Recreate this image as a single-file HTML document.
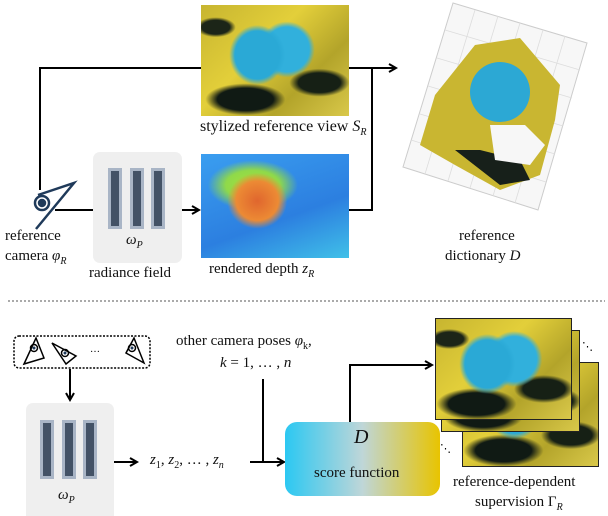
<!DOCTYPE html>
<html><head><meta charset="utf-8"><style>
body{margin:0;width:608px;height:516px;background:#fff;overflow:hidden;font-family:"Liberation Serif",serif;}
.t{position:absolute;font-size:15px;color:#111;white-space:nowrap;}
.img{position:absolute;overflow:hidden;}
.sty{background:
 radial-gradient(ellipse 28px 30px at 38% 45%,#2aa9d6 0,#2aa9d6 80%,transparent 100%),
 radial-gradient(ellipse 28px 28px at 58% 40%,#31b0dc 0,#31b0dc 80%,transparent 100%),
 radial-gradient(ellipse 40px 16px at 30% 85%,#101a14 0,#101a14 70%,transparent 100%),
 radial-gradient(ellipse 30px 14px at 80% 70%,#162015 0,#162015 70%,transparent 100%),
 radial-gradient(ellipse 20px 10px at 10% 20%,#1c2518 0,#1c2518 70%,transparent 100%),
 linear-gradient(135deg,#c7b530,#e3cf3a 40%,#b3a42a 70%,#d9c84a);}
</style></head><body>
<svg width="608" height="516" style="position:absolute;left:0;top:0">
<defs><marker id="a" markerWidth="10" markerHeight="10" refX="8" refY="5" orient="auto" markerUnits="userSpaceOnUse"><path d="M1,1 L8,5 L1,9" fill="none" stroke="#000" stroke-width="2"/></marker>
<linearGradient id="sg" x1="0" x2="1"><stop offset="0" stop-color="#2bc8f2"/><stop offset="0.5" stop-color="#bfd6d8"/><stop offset="1" stop-color="#e8c400"/></linearGradient></defs>
<polyline points="40,190 40,68 201,68" fill="none" stroke="#000" stroke-width="2"/>
<line x1="349" y1="68" x2="396" y2="68" stroke="#000" stroke-width="2" marker-end="url(#a)"/>
<polyline points="349,210 372,210 372,68" fill="none" stroke="#000" stroke-width="2"/>
<line x1="55" y1="210" x2="93" y2="210" stroke="#000" stroke-width="2"/>
<line x1="182" y1="210" x2="199" y2="210" stroke="#000" stroke-width="2" marker-end="url(#a)"/>
<g transform="translate(42,203)" stroke="#1f3a5a" stroke-width="2.5" fill="none">
<circle r="7"/><circle r="3" fill="#1f3a5a"/><path d="M-4,-8 L32,-20 L-6,26"/></g>
<rect x="93" y="152" width="89" height="111" rx="7" fill="#efefef"/>
<g fill="#a9b5c6"><rect x="108" y="168" width="14" height="61"/><rect x="130" y="168" width="14" height="61"/><rect x="151" y="168" width="14" height="61"/></g>
<g fill="#435266"><rect x="111" y="171" width="8" height="55"/><rect x="133" y="171" width="8" height="55"/><rect x="154" y="171" width="8" height="55"/></g>
<polygon points="453,3 587,43 538,210 403,167" fill="#f7f7f7" stroke="#ccc"/>
<g stroke="#ddd" stroke-width="0.8">
<line x1="475" y1="10" x2="425" y2="174"/><line x1="498" y1="16" x2="448" y2="181"/><line x1="520" y1="23" x2="470" y2="188"/><line x1="543" y1="30" x2="493" y2="196"/><line x1="565" y1="36" x2="515" y2="203"/>
<line x1="445" y1="30" x2="580" y2="70"/><line x1="437" y1="58" x2="572" y2="98"/><line x1="428" y1="86" x2="563" y2="126"/><line x1="420" y1="114" x2="555" y2="154"/><line x1="411" y1="140" x2="546" y2="182"/></g>
<path d="M475,45 L520,38 L560,85 L555,120 L540,175 L500,190 L455,165 L420,145 L435,95 Z" fill="#c9b631"/>
<path d="M455,150 L500,185 L530,180 L520,160 L480,150 Z" fill="#17201a"/>
<path d="M490,125 L525,125 L545,145 L530,165 L495,160 Z" fill="#f7f7f7"/>
<ellipse cx="500" cy="92" rx="30" ry="30" fill="#2ca8d4"/>
<line x1="8" y1="301" x2="605" y2="301" stroke="#aaa" stroke-width="2" stroke-dasharray="2,2"/>
<rect x="14" y="336" width="136" height="32" rx="5" fill="none" stroke="#000" stroke-width="1.5" stroke-dasharray="2,1.5"/>
<g stroke="#000" stroke-width="1.5" fill="none">
<path d="M24,364 L36,338 L44,358 Z"/><circle cx="34" cy="348" r="3.5"/>
<path d="M52,343 L76,356 L66,364 Z"/><circle cx="65" cy="353" r="3.5"/>
<path d="M144,363 L134,338 L126,353 Z"/><circle cx="132" cy="348" r="3.5"/></g>
<g fill="#1f3a5a"><circle cx="34" cy="348" r="1.5"/><circle cx="65" cy="353" r="1.5"/><circle cx="132" cy="348" r="1.5"/></g>
<text x="90" y="352" font-size="10" font-family="Liberation Serif">…</text>
<line x1="70" y1="369" x2="70" y2="400" stroke="#000" stroke-width="2" marker-end="url(#a)"/>
<rect x="26" y="403" width="88" height="120" rx="7" fill="#efefef"/>
<g fill="#a9b5c6"><rect x="40" y="420" width="14" height="59"/><rect x="62" y="420" width="14" height="59"/><rect x="83" y="420" width="14" height="59"/></g>
<g fill="#435266"><rect x="43" y="423" width="8" height="53"/><rect x="65" y="423" width="8" height="53"/><rect x="86" y="423" width="8" height="53"/></g>
<line x1="114" y1="462" x2="137" y2="462" stroke="#000" stroke-width="2" marker-end="url(#a)"/>
<line x1="250" y1="462" x2="284" y2="462" stroke="#000" stroke-width="2" marker-end="url(#a)"/>
<line x1="263" y1="379" x2="263" y2="462" stroke="#000" stroke-width="2"/>
<rect x="285" y="422" width="155" height="74" rx="12" fill="url(#sg)"/>
<polyline points="350,422 350,365 432,365" fill="none" stroke="#000" stroke-width="2" marker-end="url(#a)"/>
<text x="440" y="452" font-size="11" font-family="Liberation Serif">⋱</text>
<text x="582" y="350" font-size="11" font-family="Liberation Serif">⋱</text>
</svg>
<div class="img sty" style="left:201px;top:5px;width:148px;height:111px"></div>
<div class="img" style="left:201px;top:154px;width:148px;height:104px;background:
 radial-gradient(ellipse 30px 28px at 38% 45%,#e0662e 0,#ec8a34 70%,transparent 100%),
 radial-gradient(ellipse 45px 25px at 35% 30%,#a9e03a 0,#8fd94a 60%,transparent 100%),
 linear-gradient(160deg,#3a9ef0,#2c7fe0 60%,#40c0e8)"></div>
<div class="img sty" style="left:462px;top:362px;width:135px;height:103px;border:1.5px solid #222"></div>
<div class="img sty" style="left:441px;top:330px;width:137px;height:100px;border:1.5px solid #222"></div>
<div class="img sty" style="left:435px;top:318px;width:135px;height:100px;border:1.5px solid #222"></div>
<div class="t" style="left:200px;top:118px;font-size:16px">stylized reference view <i>S<sub style="font-size:10px">R</sub></i></div>
<div class="t" style="left:209px;top:261px">rendered depth <i>z<sub style="font-size:10px">R</sub></i></div>
<div class="t" style="left:5px;top:228px">reference</div>
<div class="t" style="left:5px;top:248px">camera <i>φ<sub style="font-size:10px">R</sub></i></div>
<div class="t" style="left:126px;top:232px"><i>ω<sub style="font-size:10px">P</sub></i></div>
<div class="t" style="left:89px;top:265px">radiance field</div>
<div class="t" style="left:459px;top:228px">reference</div>
<div class="t" style="left:445px;top:248px">dictionary <i>D</i></div>
<div class="t" style="left:176px;top:333px">other camera poses <i>φ</i><sub style="font-size:10px">k</sub>,</div>
<div class="t" style="left:220px;top:355px"><i>k</i> = 1, … , <i>n</i></div>
<div class="t" style="left:58px;top:487px"><i>ω<sub style="font-size:10px">P</sub></i></div>
<div class="t" style="left:150px;top:452px"><i>z</i><sub style="font-size:10px">1</sub>, <i>z</i><sub style="font-size:10px">2</sub>, … , <i>z<sub style="font-size:10px">n</sub></i></div>
<div class="t" style="left:354px;top:426px;font-size:20px"><i>D</i></div>
<div class="t" style="left:314px;top:465px;font-size:15px">score function</div>
<div class="t" style="left:453px;top:474px">reference-dependent</div>
<div class="t" style="left:475px;top:494px">supervision Γ<i><sub style="font-size:10px">R</sub></i></div>
</body></html>
